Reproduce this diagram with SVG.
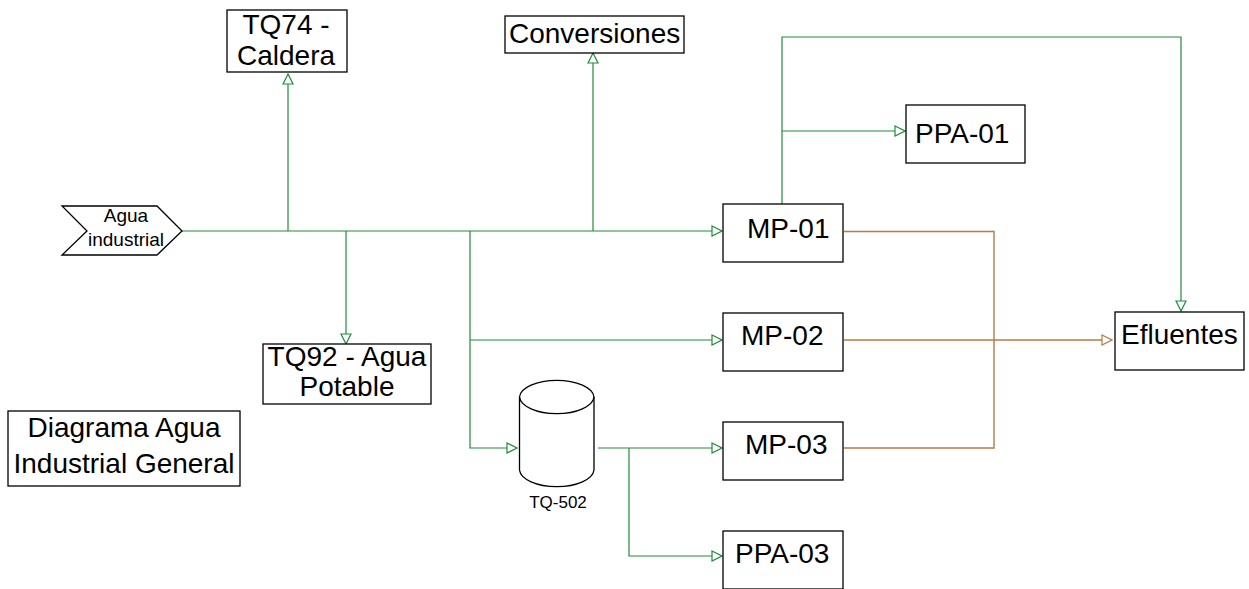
<svg xmlns="http://www.w3.org/2000/svg" width="1249" height="589" viewBox="0 0 1249 589">
<style>
.box{fill:#fff;stroke:#000;stroke-width:1.3}
.t{font-family:"Liberation Sans",Arial,sans-serif;font-size:28px;fill:#000}
.g{fill:none;stroke:#1f8c3a;stroke-width:1.2}
.b{fill:none;stroke:#b87a40;stroke-width:1.4}
</style>
<defs>
<marker id="ag" markerWidth="12" markerHeight="14" refX="11" refY="6" orient="auto" markerUnits="userSpaceOnUse" viewBox="0 0 12 12">
<path d="M1,1 L11,6 L1,11 Z" fill="#fff" stroke="#1f8c3a" stroke-width="1.2"/>
</marker>
<marker id="ab" markerWidth="12" markerHeight="14" refX="11" refY="6" orient="auto" markerUnits="userSpaceOnUse" viewBox="0 0 12 12">
<path d="M1,1 L11,6 L1,11 Z" fill="#fff" stroke="#b87a40" stroke-width="1.2"/>
</marker>
</defs>
<rect width="1249" height="589" fill="#fff"/>
<g id="connectors">
<path class="g" d="M182,231 H722" marker-end="url(#ag)"/>
<path class="g" d="M288,231 V74" marker-end="url(#ag)"/>
<path class="g" d="M593,231 V53" marker-end="url(#ag)"/>
<path class="g" d="M346,231 V344" marker-end="url(#ag)"/>
<path class="g" d="M470,231 V448 H517" marker-end="url(#ag)"/>
<path class="g" d="M470,340 H722" marker-end="url(#ag)"/>
<path class="g" d="M598,448 H722" marker-end="url(#ag)"/>
<path class="g" d="M629,448 V556 H722" marker-end="url(#ag)"/>
<path class="g" d="M782,204 V37 H1181 V311" marker-end="url(#ag)"/>
<path class="g" d="M782,131 H905" marker-end="url(#ag)"/>
<path class="b" d="M844,231.5 H994 V448 H844"/>
<path class="b" d="M844,340 H1112" marker-end="url(#ab)"/>
</g>
<g id="agua-industrial">
<path class="box" d="M62,206 H157 L182,231 L157,255 H62 L87,231 Z"/>
<text class="t" style="font-size:19px" x="126" y="221.5" text-anchor="middle">Agua</text>
<text class="t" style="font-size:19px" x="126" y="246" text-anchor="middle">industrial</text>
</g>
<g id="tq74">
<rect class="box" x="227" y="10" width="120" height="62"/>
<text class="t" x="286" y="33.5" text-anchor="middle">TQ74 -</text>
<text class="t" x="286" y="65" text-anchor="middle">Caldera</text>
</g>
<g id="conversiones">
<rect class="box" x="505" y="16" width="179" height="37"/>
<text class="t" x="509" y="43">Conversiones</text>
</g>
<g id="tq92">
<rect class="box" x="263" y="344" width="168" height="60"/>
<text class="t" x="347" y="366" text-anchor="middle">TQ92 - Agua</text>
<text class="t" x="347" y="396" text-anchor="middle">Potable</text>
</g>
<g id="diagrama">
<rect class="box" x="8" y="411" width="232" height="75"/>
<text class="t" x="124" y="437" text-anchor="middle">Diagrama Agua</text>
<text class="t" x="124" y="473" text-anchor="middle">Industrial General</text>
</g>
<g id="tq502">
<path class="box" d="M519.5,397 V470 A37.3,17.5 0 0 0 594,470 V397 A37.3,17.5 0 0 0 519.5,397 Z"/>
<path class="box" style="fill:none" d="M519.5,397 A37.3,17.5 0 0 0 594,397"/>
<text class="t" style="font-size:17px" x="558" y="508" text-anchor="middle">TQ-502</text>
</g>
<g id="mp01">
<rect class="box" x="723" y="204" width="120" height="58"/>
<text class="t" x="747" y="238">MP-01</text>
</g>
<g id="mp02">
<rect class="box" x="723" y="313" width="120" height="58"/>
<text class="t" x="741" y="345">MP-02</text>
</g>
<g id="mp03">
<rect class="box" x="723" y="422" width="120" height="58"/>
<text class="t" x="745" y="454">MP-03</text>
</g>
<g id="ppa01">
<rect class="box" x="906" y="105" width="119" height="58"/>
<text class="t" x="915" y="143">PPA-01</text>
</g>
<g id="ppa03">
<rect class="box" x="723" y="531" width="120" height="58"/>
<text class="t" x="735" y="563">PPA-03</text>
</g>
<g id="efluentes">
<rect class="box" x="1115" y="312" width="129" height="58"/>
<text class="t" x="1121" y="344">Efluentes</text>
</g>
</svg>
